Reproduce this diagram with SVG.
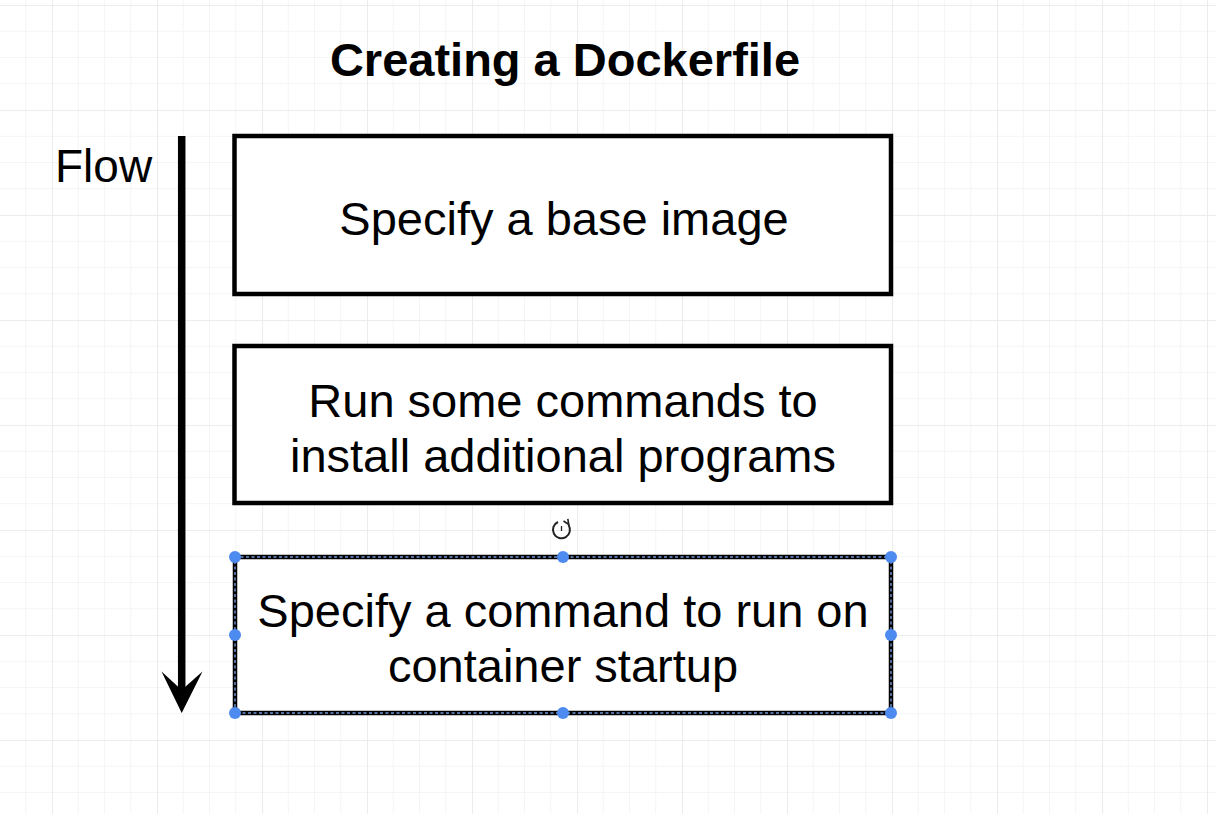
<svg xmlns="http://www.w3.org/2000/svg" width="1216" height="814" viewBox="0 0 1216 814">
  <style>
    .title { font-family: "Liberation Sans", Arial, sans-serif; font-weight: bold; font-size: 47px; fill: #000; }
    .label { font-family: "Liberation Sans", Arial, sans-serif; font-size: 47px; fill: #000; }
    .flow { font-family: "Liberation Sans", Arial, sans-serif; font-size: 46px; fill: #000; }
    .box { fill: #fff; stroke: #000; stroke-width: 4.5; }
    .sel { fill: none; stroke: #6f95d6; stroke-width: 1.4; stroke-dasharray: 3 2.5; }
    .handle { fill: #4d8bf0; }
    .minor { stroke: #f5f5f5; stroke-width: 1; }
    .major { stroke: #ececec; stroke-width: 1.2; }
  </style>
  <defs>
    <pattern id="grid" patternUnits="userSpaceOnUse" x="52" y="5" width="105" height="105">
      <line class="minor" x1="26.25" y1="0" x2="26.25" y2="105"/>
      <line class="minor" x1="52.5" y1="0" x2="52.5" y2="105"/>
      <line class="minor" x1="78.75" y1="0" x2="78.75" y2="105"/>
      <line class="minor" x1="0" y1="26.25" x2="105" y2="26.25"/>
      <line class="minor" x1="0" y1="52.5" x2="105" y2="52.5"/>
      <line class="minor" x1="0" y1="78.75" x2="105" y2="78.75"/>
      <line class="major" x1="0.5" y1="0" x2="0.5" y2="105"/>
      <line class="major" x1="0" y1="0.5" x2="105" y2="0.5"/>
    </pattern>
  </defs>

  <!-- canvas background with grid -->
  <rect width="1216" height="814" fill="#fff"/>
  <rect width="1216" height="814" fill="url(#grid)"/>

  <!-- heading -->
  <text class="title" x="565" y="76" text-anchor="middle">Creating a Dockerfile</text>

  <!-- flow arrow -->
  <g id="connectors">
    <line x1="181.7" y1="136" x2="181.7" y2="692" stroke="#000" stroke-width="7.5"/>
    <path d="M181.7,713 L161.5,671.5 L181.7,690 L202.5,671.5 Z" fill="#000"/>
  </g>
  <g id="flow-label">
    <text class="flow" x="55" y="182">Flow</text>
  </g>

  <!-- step 1 -->
  <g id="base-image">
    <rect class="box" x="234.5" y="136" width="656.5" height="158"/>
    <text class="label" x="564" y="235" text-anchor="middle">Specify a base image</text>
  </g>

  <!-- step 2 -->
  <g id="install-programs">
    <rect class="box" x="234.5" y="346" width="656.5" height="157"/>
    <text class="label" x="563" y="417" text-anchor="middle">Run some commands to</text>
    <text class="label" x="563" y="472" text-anchor="middle">install additional programs</text>
  </g>

  <!-- step 3 (selected) -->
  <g id="startup-command">
    <rect class="box" x="235" y="557" width="656" height="156"/>
    <rect class="sel" x="235" y="557" width="656" height="156"/>
    <text class="label" x="563" y="627" text-anchor="middle">Specify a command to run on</text>
    <text class="label" x="563" y="682" text-anchor="middle">container startup</text>
    <g id="selection-handles">
      <circle class="handle" cx="235" cy="557" r="6"/>
      <circle class="handle" cx="563" cy="557" r="6"/>
      <circle class="handle" cx="891" cy="557" r="6"/>
      <circle class="handle" cx="235" cy="635" r="6"/>
      <circle class="handle" cx="891" cy="635" r="6"/>
      <circle class="handle" cx="235" cy="713" r="6"/>
      <circle class="handle" cx="563" cy="713" r="6"/>
      <circle class="handle" cx="891" cy="713" r="6"/>
    </g>
    <!-- rotate handle -->
    <g id="rotate-handle" fill="none" stroke="#222" stroke-width="2">
      <path d="M558,522 A8.5,8.5 0 1 0 568.5,525"/>
      <path d="M563.5,521 L568.8,524.5 L567.8,518.8" stroke-width="1.6"/>
      <line x1="561.5" y1="526" x2="561.5" y2="531" stroke-width="1.3"/>
    </g>
  </g>
</svg>
